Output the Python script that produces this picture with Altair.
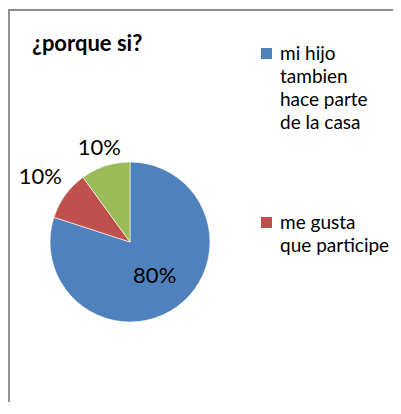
import altair as alt
import pandas as pd

CATEGORIES = ["mi hijo tambien hace parte de la casa", "me gusta que participe", "otro"]
VALUES = [80, 10, 10]
COLORS = ["#4F81BD", "#C0504D", "#9BBB59"]
LEGEND_SHOWN = CATEGORIES[:2]
LEGEND_LINES = [["mi hijo", "tambien", "hace parte", "de la casa"], ["me gusta", "que participe"]]
TITLE = "¿porque si?"

df = pd.DataFrame({"category": CATEGORIES, "value": VALUES, "idx": list(range(len(CATEGORIES)))})

label_expr = " : ".join(
    f"datum.label == '{c}' ? {lines!r}" for c, lines in zip(LEGEND_SHOWN, LEGEND_LINES)
) + " : datum.label"

W, H = 385, 394
CX, CY, R = 122, 234, 80
FONT = "Lato"

base = alt.Chart(df).transform_joinaggregate(
    total="sum(value)"
).transform_window(
    cum="sum(value)", sort=[alt.SortField("idx")], frame=[None, 0]
).transform_calculate(
    mid="(datum.cum - datum.value/2) / datum.total * 2 * PI",
    pct="format(datum.value / datum.total, '.0%')",
    lr=f"datum.value / datum.total >= 0.5 ? 42 : {R + 4} + 28*abs(sin(datum.mid)) + 7*abs(cos(datum.mid))",
)

pie = base.mark_arc(radius=R, x=CX, y=CY, stroke="white", strokeWidth=0.6).encode(
    theta=alt.Theta("value:Q", stack=True),
    color=alt.Color(
        "category:N",
        scale=alt.Scale(domain=CATEGORIES, range=COLORS),
        sort=CATEGORIES,
        legend=alt.Legend(
            title=None,
            values=LEGEND_SHOWN,
            orient="none",
            legendX=249,
            legendY=36,
            symbolType="square",
            symbolSize=121,
            symbolStrokeWidth=0,
            labelFont=FONT,
            labelFontSize=19,
            labelColor="#000000",
            labelLimit=200,
            labelExpr=label_expr,
            labelOffset=4,
            rowPadding=80,
        ),
    ),
    order=alt.Order("idx:Q"),
)

labels = base.mark_text(x=CX, y=CY, font=FONT, fontSize=22, color="#000000", align="center", baseline="middle").encode(
    theta=alt.Theta("mid:Q", scale=None, stack=None),
    radius=alt.Radius("lr:Q", scale=None),
    text="pct:N",
)

frame_left = alt.Chart(df).mark_rule(color="#8c8c8c", strokeWidth=2).encode(
    x=alt.value(0.5), y=alt.value(2), y2=alt.value(H)
)
frame_top = alt.Chart(df).mark_rule(color="#8c8c8c", strokeWidth=2).encode(
    x=alt.value(0), x2=alt.value(W), y=alt.value(2)
)

chart = alt.layer(frame_left, frame_top, pie, labels).properties(
    width=W,
    height=H,
    autosize=alt.AutoSizeParams(type="none"),
    padding=0,
    title=alt.TitleParams(
        TITLE, anchor="start", frame="group", orient="top", offset=0,
        dx=24, dy=65, font=FONT, fontSize=22, fontWeight="bold", color="#000000", baseline="alphabetic",
    ),
).configure(
    style={"guide-label": {"lineHeight": 23}}
).configure_view(stroke=None)

chart.save("out.html", embed_options={"renderer": "svg", "actions": False})
